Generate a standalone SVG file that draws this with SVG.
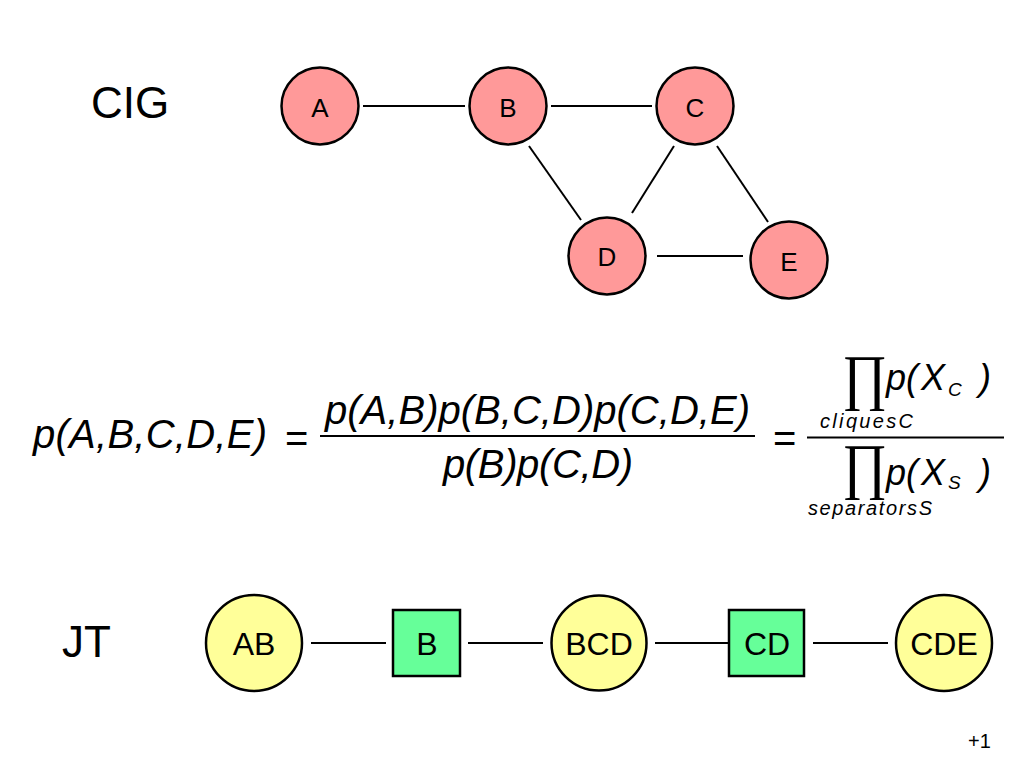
<svg xmlns="http://www.w3.org/2000/svg" width="1024" height="768" viewBox="0 0 1024 768">
<style>
text{font-family:"Liberation Sans",Arial,sans-serif;fill:#000}
.pk{fill:#FF9999;stroke:#000;stroke-width:2.5}
.yl{fill:#FFFF99;stroke:#000;stroke-width:2.5}
.gr{fill:#66FF99;stroke:#000;stroke-width:2.5}
.e{stroke:#000;stroke-width:2;fill:none}
.nl{font-size:26px;text-anchor:middle}
.jl{font-size:32px;text-anchor:middle}
.ttl{font-size:44px}
.m{font-style:italic;font-size:40px}
.ms{font-style:italic;font-size:36px}
.sb{font-style:italic;font-size:19px}
.sm{font-style:italic;font-size:20px}
.eq{font-size:40px}
.pr{font-family:"Liberation Serif","DejaVu Serif",serif;font-size:62px}
</style>
<rect width="1024" height="768" fill="#fff"/>
<text class="ttl" x="91" y="118">CIG</text>
<text class="ttl" x="62" y="657">JT</text>
<g id="connectors">
<line class="e" x1="363" y1="106" x2="465" y2="106"/>
<line class="e" x1="551" y1="106" x2="652" y2="106"/>
<line class="e" x1="529" y1="146" x2="581" y2="220"/>
<line class="e" x1="674" y1="146" x2="632" y2="213"/>
<line class="e" x1="717" y1="146" x2="768" y2="222"/>
<line class="e" x1="657" y1="256" x2="743" y2="256"/>
<line class="e" x1="311" y1="643" x2="386" y2="643"/>
<line class="e" x1="468" y1="643" x2="543" y2="643"/>
<line class="e" x1="655" y1="643" x2="731" y2="643"/>
<line class="e" x1="813" y1="643" x2="888" y2="643"/>
</g>
<g id="nA"><circle class="pk" cx="320" cy="106" r="38.5"/><text class="nl" x="320" y="117">A</text></g>
<g id="nB"><circle class="pk" cx="508" cy="106" r="38.5"/><text class="nl" x="508" y="117">B</text></g>
<g id="nC"><circle class="pk" cx="695" cy="106" r="38.5"/><text class="nl" x="695" y="117">C</text></g>
<g id="nD"><circle class="pk" cx="607" cy="256" r="38.5"/><text class="nl" x="607" y="266">D</text></g>
<g id="nE"><circle class="pk" cx="789" cy="260" r="38.5"/><text class="nl" x="789" y="271">E</text></g>
<g id="jAB"><circle class="yl" cx="254" cy="643" r="48"/><text class="jl" x="254" y="655">AB</text></g>
<g id="jB"><rect class="gr" x="393" y="610" width="67" height="66"/><text class="jl" x="427" y="655">B</text></g>
<g id="jBCD"><circle class="yl" cx="599" cy="643" r="47.5"/><text class="jl" x="599" y="655">BCD</text></g>
<g id="jCD"><rect class="gr" x="729" y="610" width="75" height="66"/><text class="jl" x="767" y="655">CD</text></g>
<g id="jCDE"><circle class="yl" cx="944" cy="643" r="48"/><text class="jl" x="944" y="655">CDE</text></g>
<g id="formula">
<text class="m" x="33" y="448" textLength="234" lengthAdjust="spacing">p(A,B,C,D,E)</text>
<text class="eq" x="285" y="452">=</text>
<text class="m" x="325" y="424" textLength="425" lengthAdjust="spacing">p(A,B)p(B,C,D)p(C,D,E)</text>
<line x1="320" y1="436" x2="755" y2="436" stroke="#000" stroke-width="2"/>
<text class="m" x="443" y="478" textLength="190" lengthAdjust="spacing">p(B)p(C,D)</text>
<text class="eq" x="773" y="452">=</text>
<line x1="807" y1="437.5" x2="1004" y2="437.5" stroke="#000" stroke-width="2"/>
<text class="pr" transform="translate(842,398) scale(0.88,1)" x="0" y="0">∏</text>
<text class="ms" x="886" y="390">p(</text>
<text class="ms" x="921" y="390">X</text>
<text class="sb" x="948" y="396">C</text>
<text class="ms" x="979" y="390">)</text>
<text class="sm" x="820" y="428" textLength="93" lengthAdjust="spacing">cliquesC</text>
<text class="pr" transform="translate(842,487) scale(0.88,1)" x="0" y="0">∏</text>
<text class="ms" x="886" y="485">p(</text>
<text class="ms" x="921" y="485">X</text>
<text class="sb" x="948" y="489">S</text>
<text class="ms" x="979" y="485">)</text>
<text class="sm" x="808" y="515" textLength="124" lengthAdjust="spacing">separatorsS</text>
</g>
<text x="968" y="748" style="font-size:20px">+1</text>
</svg>
